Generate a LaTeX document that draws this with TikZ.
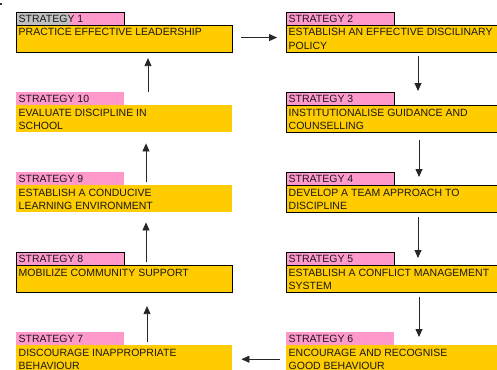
\documentclass[tikz,border=0pt]{standalone}
\usepackage{fontspec}
\setmainfont{Liberation Sans}
\usetikzlibrary{arrows.meta}
\definecolor{stgold}{HTML}{FFCC00}
\definecolor{stpink}{HTML}{FF99CC}
\definecolor{stgray}{HTML}{C0C0C0}
\tikzset{
  pinkbox/.style={fill=stpink, minimum width=108pt, minimum height=13pt, inner sep=0pt, anchor=north west},
  goldbox/.style={fill=stgold, minimum width=#1, minimum height=27pt, inner sep=0pt, anchor=north west},
  framed/.style={draw=black, line width=1.1pt},
  plain/.style={},
  lbl/.style={font=\fontsize{10.5}{13.5}\selectfont, anchor=base west, inner sep=0pt, text=black!90},
  body/.style={font=\fontsize{10.5}{13.5}\selectfont, anchor=base west, inner sep=0pt, text=black!90},
  flow/.style={-{Triangle[width=7pt,length=8pt]}, line width=0.8pt, draw=black!85}
}
% #1 id, #2 x, #3 y (pink top), #4 frame style, #5 gold width, #6 label, #7 line 1, #8 line 2
\newcommand\stratblock[8]{%
  \node[goldbox=#5, #4] (g#1) at (#2,#3+13) {};
  \node[pinkbox, #4] (p#1) at (#2,#3) {};
  \node[lbl] (l#1) at (#2+2.5,#3+10.7) {#6};
  \node[body] (t#1) at (#2+2.5,#3+24) {#7};
  \node[body] (u#1) at (#2+2.5,#3+37.5) {#8};
}
\begin{document}
\begin{tikzpicture}[x=1pt,y=-1pt]
\useasboundingbox (0,0) rectangle (497,369);
\clip (0,0) rectangle (497,369);
\fill[black!80] (0,3) rectangle (2,5);
% left column
\node[goldbox=216pt, framed] (g1) at (16,25) {};
\node[pinkbox, framed] (p1) at (16,12) {};
\fill[stgray] ([shift={(0.55pt,-0.55pt)}]p1.north west) rectangle ([xshift=54pt,yshift=0.6pt]p1.south west);
\node[lbl] (l1) at (18.5,22.7) {STRATEGY 1};
\node[body] (t1) at (18.5,36) {PRACTICE EFFECTIVE LEADERSHIP};
\stratblock{10}{16}{92}{plain}{216pt}{STRATEGY 10}{EVALUATE DISCIPLINE IN}{SCHOOL}
\stratblock{9}{16}{172}{plain}{216pt}{STRATEGY 9}{ESTABLISH A CONDUCIVE}{LEARNING ENVIRONMENT}
\stratblock{8}{16}{252}{framed}{216pt}{STRATEGY 8}{MOBILIZE COMMUNITY SUPPORT}{}
\stratblock{7}{16}{332}{plain}{216pt}{STRATEGY 7}{DISCOURAGE INAPPROPRIATE}{BEHAVIOUR}
% right column
\stratblock{2}{286}{12}{framed}{230pt}{STRATEGY 2}{ESTABLISH AN EFFECTIVE DISCILINARY}{POLICY}
\stratblock{3}{286}{92}{framed}{230pt}{STRATEGY 3}{INSTITUTIONALISE GUIDANCE AND}{COUNSELLING}
\stratblock{4}{286}{172}{framed}{230pt}{STRATEGY 4}{DEVELOP A TEAM APPROACH TO}{DISCIPLINE}
\stratblock{5}{286}{252}{framed}{230pt}{STRATEGY 5}{ESTABLISH A CONFLICT MANAGEMENT}{SYSTEM}
\stratblock{6}{286}{332}{plain}{230pt}{STRATEGY 6}{ENCOURAGE AND RECOGNISE}{GOOD BEHAVIOUR}
% connectors (xshift/yshift in canvas units: positive yshift = up)
\draw[flow] ([shift={(8pt,1.5pt)}]g1.east) -- ([shift={(-9pt,1.5pt)}]g2.west);
\draw[flow] ([xshift=132pt,yshift=-3pt]g2.south west) -- ([xshift=132pt,yshift=1pt]p3.north west);
\draw[flow] ([xshift=133pt,yshift=-7pt]g3.south west) -- ([xshift=133pt,yshift=-5pt]p4.north west);
\draw[flow] ([xshift=132pt,yshift=-4pt]g4.south west) -- ([xshift=132pt,yshift=-6pt]p5.north west);
\draw[flow] ([xshift=133pt,yshift=-4pt]g5.south west) -- ([xshift=133pt,yshift=-5pt]p6.north west);
\draw[flow] ([shift={(-6pt,-0.5pt)}]g6.west) -- ([shift={(9pt,-0.5pt)}]g7.east);
\draw[flow] ([xshift=131pt,yshift=-10pt]p7.north west) -- ([xshift=131pt,yshift=-13pt]g8.south west);
\draw[flow] ([xshift=130pt,yshift=3pt]g8.north west) -- ([xshift=130pt,yshift=-10pt]g9.south west);
\draw[flow] ([xshift=130pt,yshift=-10pt]p9.north west) -- ([xshift=130pt,yshift=-11pt]g10.south west);
\draw[flow] ([xshift=132pt,yshift=0pt]p10.north west) -- ([xshift=132pt,yshift=-5pt]g1.south west);
\end{tikzpicture}
\end{document}
